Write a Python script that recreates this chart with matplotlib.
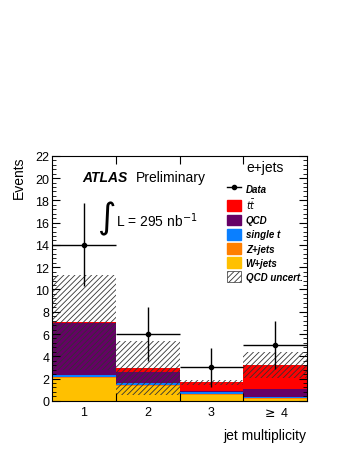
import numpy as np
import matplotlib
matplotlib.use("Agg")
import matplotlib.pyplot as plt
from matplotlib.patches import Patch
from matplotlib.lines import Line2D
from matplotlib.ticker import MultipleLocator

plt.rcParams['font.family'] = ['Liberation Sans', 'DejaVu Sans']
plt.rcParams['hatch.linewidth'] = 0.6

bins = ["1", "2", "3", r"$\geq$ 4"]
wjets = [2.05, 1.35, 0.55, 0.20]
zjets = [0.10, 0.05, 0.05, 0.03]
single_t = [0.15, 0.17, 0.15, 0.10]
qcd = [4.70, 1.03, 0.10, 0.72]
ttbar = [0.05, 0.35, 0.80, 2.15]
qcd_unc = [4.25, 2.45, 0.25, 1.15]
data = [14, 6, 3, 5]
data_lo = [3.7, 2.4, 1.8, 2.15]
data_hi = [3.8, 2.45, 1.7, 2.2]

x = np.arange(1, len(bins) + 1)

fig = plt.figure(figsize=(3.49, 4.52), dpi=100)
ax = fig.add_axes([0.149, 0.111, 0.731, 0.542])

components = [
    (wjets, "#ffc000", "W+jets"),
    (zjets, "#ff7f00", "Z+jets"),
    (single_t, "#0a7fff", "single t"),
    (qcd, "#660066", "QCD"),
    (ttbar, "#ff0000", "ttbar"),
]
bottom = np.zeros(len(x))
handles = {}
for vals, col, lab in components:
    ax.bar(x, vals, width=1.0, bottom=bottom, color=col, linewidth=0)
    handles[lab] = Patch(facecolor=col, edgecolor=col)
    bottom = bottom + np.array(vals)

# QCD uncertainty band around the total
total = bottom
unc = np.array(qcd_unc)
ax.bar(x, 2 * unc, width=1.0, bottom=total - unc, facecolor='none',
       edgecolor='#333333', hatch='//////', linewidth=0)

ax.errorbar(x, data, yerr=[data_lo, data_hi], xerr=0.5, fmt='o', color='black',
            markersize=3, elinewidth=1, capsize=0)

ax.set_xlim(0.5, 4.5)
ax.set_ylim(0, 22)
ax.yaxis.set_major_locator(MultipleLocator(2))
ax.yaxis.set_minor_locator(MultipleLocator(0.4))
ax.set_xticks([1.5, 2.5, 3.5])
ax.set_xticklabels([])
ax.set_xticks(x, minor=True)
ax.set_xticklabels(bins, minor=True, fontsize=9)
ax.tick_params(axis='x', which='minor', length=0, pad=4)
ax.tick_params(axis='x', which='major', direction='in', length=6, top=True, bottom=True)
ax.tick_params(axis='y', which='both', direction='in', left=True, right=True, labelsize=9, pad=2)
ax.tick_params(axis='y', which='major', length=6)
ax.tick_params(axis='y', which='minor', length=3)
for s in ax.spines.values():
    s.set_linewidth(0.8)

fig.text(0.055, 0.653, "Events", rotation=90, ha='center', va='top', fontsize=10)
fig.text(0.877, 0.035, "jet multiplicity", ha='right', va='center', fontsize=10)

ax.text(0.12, 0.915, "ATLAS", transform=ax.transAxes, fontsize=10,
        fontweight='bold', style='italic', va='center')
ax.text(0.33, 0.915, "Preliminary", transform=ax.transAxes, fontsize=10, va='center')
ax.text(0.175, 0.745, r"$\int$", transform=ax.transAxes, fontsize=18, va='center')
ax.text(0.25, 0.74, r"L = 295 nb$^{-1}$", transform=ax.transAxes, fontsize=10, va='center')

data_handle = Line2D([0], [0], marker='o', color='black', markersize=3, linewidth=1)
unc_handle = Patch(facecolor='white', edgecolor='#333333', hatch='//////', linewidth=0.5)
leg_handles = [data_handle, handles["ttbar"], handles["QCD"], handles["single t"],
               handles["Z+jets"], handles["W+jets"], unc_handle]
leg_labels = ["Data", r"$t\bar{t}$", "QCD", "single t", "Z+jets", "W+jets", "QCD uncert."]
leg = ax.legend(leg_handles, leg_labels, loc='upper left', bbox_to_anchor=(0.67, 0.905),
                frameon=False, handlelength=1.5, handleheight=1.35, labelspacing=0.33,
                handletextpad=0.45, borderaxespad=0,
                prop={'size': 7, 'style': 'italic', 'weight': 'bold'})
ax.text(0.76, 0.955, "e+jets", transform=ax.transAxes, fontsize=10, va='center')

fig.savefig("out.png", dpi=100)
